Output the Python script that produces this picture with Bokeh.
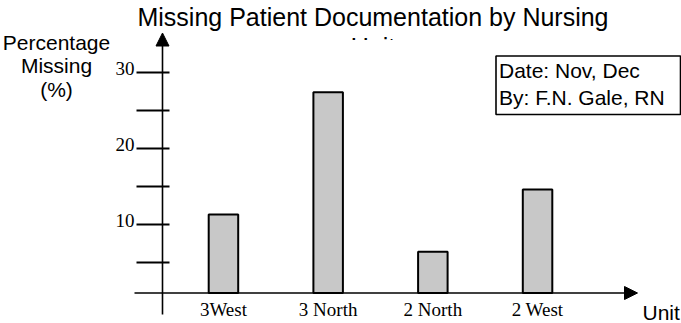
from bokeh.plotting import figure
from bokeh.models import Range1d, Arrow, NormalHead
from bokeh.core.properties import value
from bokeh.embed import file_html
from bokeh.resources import INLINE

# ---- data -------------------------------------------------------------
units = ["3West", "3 North", "2 North", "2 West"]
pct_missing = [11.3, 27.4, 6.4, 14.6]
minor_ticks = [5, 10, 15, 20, 25, 30]
labeled_ticks = [10, 20, 30]
tick_labels = ["10", "20", "30"]

title_line1 = "Missing Patient Documentation by Nursing"
title_line2 = "Unit"
y_title = ["Percentage", "Missing", "(%)"]
x_title = "Unit"
note_lines = ["Date: Nov, Dec", "By: F.N. Gale, RN"]

# ---- layout (screen pixels -> data units) -------------------------------
W, H = 681, 323
X0, DX = 222.95, 104.7   # centre of first unit, pixels per unit slot
Y0, DY = 300.0, 7.6      # pixel row of 0 %, pixels per percent
SANS_SHIFT = -7          # pulls text baselines up to the intended row
SERIF_SHIFT = -6


def xd(px):
    return (px - X0) / DX


def yd(py):
    return (Y0 - py) / DY


SANS = value("Liberation Sans")
SERIF = value("Liberation Serif")

p = figure(width=W, height=H, output_backend="svg", toolbar_location=None,
           x_range=Range1d(xd(0), xd(W)), y_range=Range1d(yd(H), yd(0)),
           x_axis_location=None, y_axis_location=None, min_border=0)
p.grid.visible = False
p.outline_line_color = None
p.background_fill_color = "white"
p.border_fill_color = "white"

xs = list(range(len(units)))
axis_y = yd(292.5)    # horizontal axis sits a little above 0 %
axis_x = xd(162)

# bars rise from the horizontal axis
p.vbar(x=xs, top=pct_missing, bottom=axis_y, width=29.5 / DX,
       fill_color="#c8c8c8", line_color="black", line_width=2)

# vertical axis with arrow
p.add_layout(Arrow(x_start=axis_x, y_start=yd(314), x_end=axis_x, y_end=yd(32.5),
                   line_color="black", line_width=1.6,
                   end=NormalHead(size=13, fill_color="black", line_color="black", line_width=1)))
# horizontal axis with arrow
p.add_layout(Arrow(x_start=xd(134), y_start=axis_y, x_end=xd(637), y_end=axis_y,
                   line_color="black", line_width=1.6,
                   end=NormalHead(size=13, fill_color="black", line_color="black", line_width=1)))

# tick marks crossing the vertical axis
p.segment(x0=[xd(136)] * len(minor_ticks), x1=[xd(169)] * len(minor_ticks),
          y0=minor_ticks, y1=minor_ticks, line_color="black", line_width=1.8)
p.text(x=[xd(134)] * len(labeled_ticks), y=labeled_ticks, text=tick_labels,
       text_font=SERIF, text_font_size="19px", text_align="right",
       text_baseline="alphabetic", y_offset=1.5 + SERIF_SHIFT, text_color="black")

# unit labels under the bars
p.text(x=xs, y=[yd(315)] * len(units), text=units, text_font=SERIF,
       text_font_size="19px", text_align="center", text_baseline="alphabetic",
       y_offset=SERIF_SHIFT, text_color="black")

# axis titles
p.text(x=[xd(56)] * 3, y=[yd(49), yd(72), yd(95.5)], text=y_title, text_font=SANS,
       text_font_size="21px", text_align="center", text_baseline="alphabetic",
       y_offset=SANS_SHIFT, text_color="black")
p.text(x=[xd(642)], y=[yd(319)], text=[x_title], text_font=SANS,
       text_font_size="21px", text_align="left", text_baseline="alphabetic",
       y_offset=SANS_SHIFT, text_color="black")

# title; its second line is mostly hidden behind the plot area
p.text(x=[xd(372.5)], y=[yd(24)], text=[title_line1], text_font=SANS,
       text_font_size="25px", text_align="center", text_baseline="alphabetic",
       y_offset=SANS_SHIFT - 1, text_color="black")
p.text(x=[xd(372.5)], y=[yd(54)], text=[title_line2], text_font=SANS,
       text_font_size="25px", text_align="center", text_baseline="alphabetic",
       y_offset=SANS_SHIFT - 1, text_color="black")
p.quad(left=xd(335), right=xd(410), top=yd(39.5), bottom=yd(60),
       fill_color="white", line_color=None)

# note box
p.quad(left=xd(495.5), right=xd(680), top=yd(55.5), bottom=yd(114),
       fill_color="white", line_color="black", line_width=1.6)
p.text(x=[xd(498.5)] * 2, y=[yd(77), yd(103.5)], text=note_lines, text_font=SANS,
       text_font_size="21px", text_align="left", text_baseline="alphabetic",
       y_offset=SANS_SHIFT, text_color="black")

open("out.html", "w").write(file_html(p, INLINE))
